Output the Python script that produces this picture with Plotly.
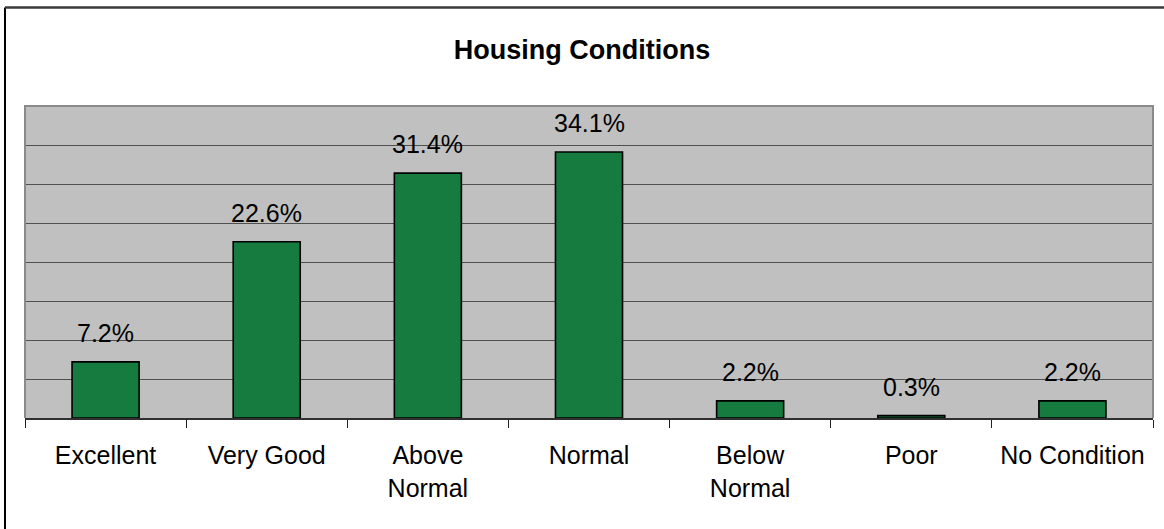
import plotly.graph_objects as go

categories = ["Excellent", "Very Good", "Above<br>Normal", "Normal", "Below<br>Normal", "Poor", "No Condition"]
shares = [7.2, 22.6, 31.4, 34.1, 2.2, 0.3, 2.2]
label_text = [f"{v}%" for v in shares]

FONT = "Arial, Liberation Sans, sans-serif"
W, H = 1164, 529
ML, MR, MT, MB = 25, 11, 106, 111
PW, PH = W - ML - MR, H - MT - MB

def px_x(x):
    return (x - ML) / PW

def px_y(y):
    return (H - MB - y) / PH

fig = go.Figure()
fig.add_trace(go.Bar(
    x=categories,
    y=shares,
    marker=dict(color="#157b3f", line=dict(color="#000000", width=1.6)),
    hoverinfo="skip",
))

annotations = [
    dict(x=c, y=v, text=t, showarrow=False, xref="x", yref="y",
         yanchor="bottom", yshift=13,
         font=dict(family=FONT, size=25, color="#000000"))
    for c, v, t in zip(categories, shares, label_text)
]

shapes = [
    # plot-area frame (top, left, right)
    dict(type="path", xref="paper", yref="paper",
         path="M 0 0 L 0 1 L 1 1 L 1 0",
         line=dict(color="#8a8a8a", width=2), layer="above"),
    # outer chart border
    dict(type="line", xref="paper", yref="paper",
         x0=px_x(5), x1=px_x(5), y0=px_y(7.5), y1=px_y(540),
         line=dict(color="#000000", width=2)),
    dict(type="line", xref="paper", yref="paper",
         x0=px_x(5), x1=px_x(1175), y0=px_y(7.5), y1=px_y(7.5),
         line=dict(color="#3a3a3a", width=2.5)),
]

fig.update_layout(
    width=W, height=H,
    margin=dict(l=ML, r=MR, t=MT, b=MB),
    paper_bgcolor="#ffffff",
    plot_bgcolor="#c0c0c0",
    bargap=0.584,
    showlegend=False,
    title=dict(text="<b>Housing Conditions</b>", x=0.5, xanchor="center",
               y=1 - 50 / H, yanchor="middle", yref="container",
               font=dict(family=FONT, size=27, color="#000000")),
    annotations=annotations,
    shapes=shapes,
    xaxis=dict(
        type="category",
        tickson="boundaries",
        ticks="outside", ticklen=8, tickwidth=1, tickcolor="#202020",
        showline=True, linecolor="#303030", linewidth=2,
        showgrid=False,
        tickfont=dict(family=FONT, size=25, color="#000000"),
        ticklabelstandoff=14,
        fixedrange=True,
    ),
    yaxis=dict(
        range=[0, 40], dtick=5,
        showgrid=True, gridcolor="#505050", gridwidth=1,
        zeroline=False, showticklabels=False, ticks="",
        showline=False, fixedrange=True,
    ),
)

fig.write_html("out.html")
